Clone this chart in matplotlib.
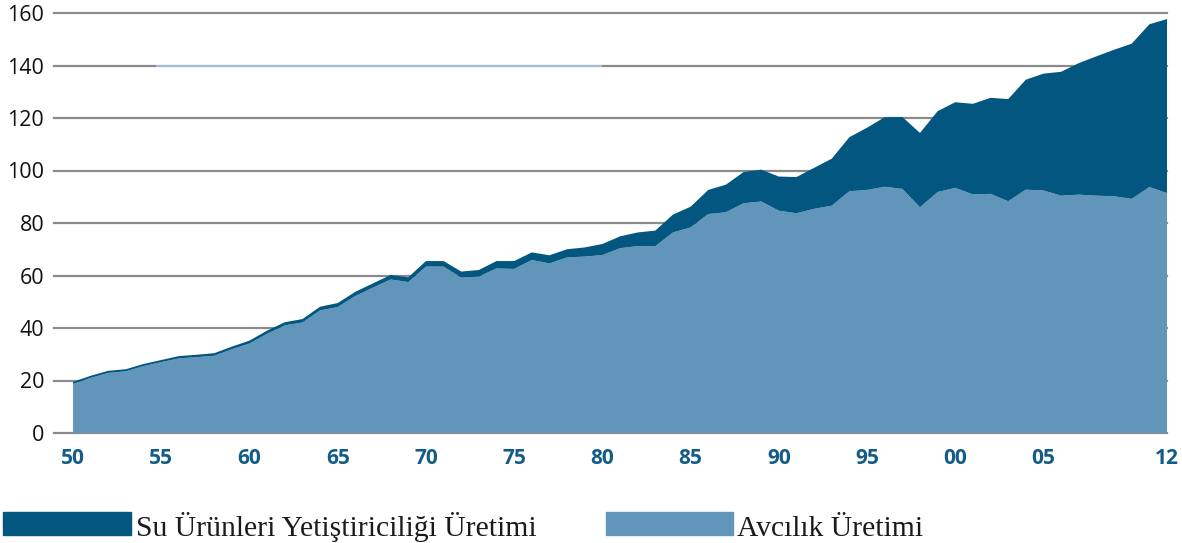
import matplotlib
matplotlib.use("Agg")
import matplotlib.pyplot as plt
from matplotlib.patches import Rectangle

years = list(range(1950, 2013))
total = [19.5, 21.8, 23.7, 24.3, 26.3, 27.8, 29.3, 29.8, 30.4, 32.9,
         35.2, 39.0, 42.2, 43.4, 48.1, 49.5, 53.8, 57.0, 60.2, 59.3,
         65.5, 65.5, 61.5, 62.1, 65.5, 65.5, 68.8, 67.7, 70.0, 70.7,
         72.0, 74.9, 76.4, 77.1, 83.2, 86.2, 92.6, 94.6, 99.4, 100.3,
         97.7, 97.5, 101.0, 104.5, 112.7, 116.3, 120.3, 120.4, 114.3, 122.6,
         126.0, 125.4, 127.7, 127.2, 134.6, 136.9, 137.6, 140.9, 143.5, 146.0,
         148.3, 155.7, 157.7]
capture = [18.7, 21.0, 22.9, 23.5, 25.5, 27.0, 28.4, 28.9, 29.4, 31.9,
           34.1, 37.8, 41.0, 42.1, 46.7, 48.0, 52.2, 55.4, 58.5, 57.5,
           63.4, 63.4, 59.2, 59.6, 62.7, 62.5, 65.9, 64.6, 66.9, 67.2,
           67.8, 70.4, 71.2, 71.2, 76.4, 78.3, 83.4, 84.1, 87.5, 88.2,
           84.7, 83.7, 85.4, 86.6, 92.1, 92.6, 93.8, 93.0, 86.0, 91.8,
           93.4, 90.9, 91.1, 88.3, 92.7, 92.4, 90.4, 90.8, 90.4, 90.2,
           89.2, 93.7, 91.4]
aquaculture = [t - c for t, c in zip(total, capture)]

xtick_pos = [1950, 1955, 1960, 1965, 1970, 1975, 1980, 1985, 1990, 1995, 2000, 2005, 2012]
xtick_labels = ["50", "55", "60", "65", "70", "75", "80", "85", "90", "95", "00", "05", "12"]
ytick_pos = [0, 20, 40, 60, 80, 100, 120, 140, 160]
legend_labels = ["Su Ürünleri Yetiştiriciliği Üretimi", "Avcılık Üretimi"]

dark = "#02567F"
light = "#6196BA"
grid_c = "#8a8a8a"

W, H = 1182, 543
fig = plt.figure(figsize=(W / 100, H / 100), dpi=100)
ax = fig.add_axes([54 / W, (H - 433) / H, (1167 - 54) / W, (433 - 13) / H])
ax.set_xlim(1948.92, 2012)
ax.set_ylim(0, 160)

for v in ytick_pos:
    ax.axhline(v, color=grid_c, lw=1.6, zorder=0, clip_on=False)
# light blue artifact on the 140 line
ax.hlines(140, 1954.7, 1980, color="#a9c4e0", lw=1.3, zorder=0.5)

ax.stackplot(years, capture, aquaculture, colors=[light, dark], lw=0, zorder=2)

for s in ax.spines.values():
    s.set_visible(False)
ax.set_yticks(ytick_pos)
ax.set_yticklabels([str(v) for v in ytick_pos], fontsize=15.5, color="#111111",
                   family="Open Sans")
ax.set_xticks(xtick_pos)
ax.set_xticklabels(xtick_labels, fontsize=15, color="#135C88", family="Open Sans",
                   fontweight="bold")
ax.tick_params(axis="both", length=0)
ax.tick_params(axis="y", pad=7)
ax.tick_params(axis="x", pad=11)

# legend
fig.patches.append(Rectangle((3 / W, (H - 535) / H), 128 / W, 23 / H,
                             transform=fig.transFigure, color=dark, figure=fig))
fig.patches.append(Rectangle((606 / W, (H - 535) / H), 127 / W, 23 / H,
                             transform=fig.transFigure, color=light, figure=fig))
fig.text(136 / W, (H - 536) / H, legend_labels[0], family="Liberation Serif",
         fontsize=21.3, color="#1a1a1a", va="baseline", ha="left")
fig.text(737 / W, (H - 536) / H, legend_labels[1], family="Liberation Serif",
         fontsize=21.3, color="#1a1a1a", va="baseline", ha="left")

fig.savefig("out.png", dpi=100)
